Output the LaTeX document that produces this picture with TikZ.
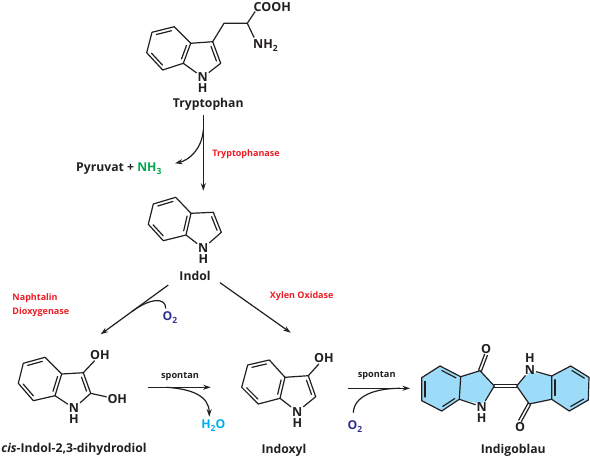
\documentclass[tikz,border=0pt]{standalone}
\usepackage{fontspec}
\setmainfont{Open Sans}
\usetikzlibrary{arrows.meta,calc}
\definecolor{cred}{HTML}{ED1C24}
\definecolor{cgreen}{HTML}{00A651}
\definecolor{cblue}{HTML}{2E3192}
\definecolor{ccyan}{HTML}{00AEEF}
\definecolor{cfill}{HTML}{9CDCF8}
\definecolor{cink}{HTML}{231F20}
\newcommand{\lowtxt}[1]{\raisebox{-3pt}{\fontsize{8.5}{8.5}\selectfont #1}}
\newcommand{\innerbond}[2]{\draw[bond] ($(#1)!.16!(#2)!3.2pt!-90:(#2)$) -- ($(#2)!.16!(#1)!3.2pt!90:(#1)$);}
\tikzset{
  bond/.style={line width=1.2pt,draw=cink,line cap=round,line join=round},
  flow/.style={line width=1.2pt,draw=cink,-{Stealth[length=7.5pt,width=5pt]}},
  sidepath/.style={line width=1.2pt,draw=cink},
  atom/.style={font=\bfseries\fontsize{12.5}{13}\selectfont,text=cink,inner sep=1pt},
  title/.style={font=\bfseries\fontsize{12.2}{13}\selectfont,text=cink,inner sep=0pt},
  enzyme/.style={font=\bfseries\fontsize{9}{10}\selectfont,text=cred,inner sep=0pt},
  cond/.style={font=\bfseries\fontsize{9.2}{10}\selectfont,text=cink,inner sep=0pt},
}
\begin{document}
\begin{tikzpicture}[x=1pt,y=-1pt]
\useasboundingbox (0,0) rectangle (590,458);

% ---- Tryptophan
\foreach \n/\p in {a/{152,32.3},b/{174.3,26.7},c/{190.7,43.3},d/{183.3,63.3},e/{162.7,70},f/{146.7,52.7},g/{212.7,41.7},h/{220.7,63.3},i/{224,23.3},j/{247.3,23.3}}
  {\coordinate (t\n) at (\p);}
\node[atom] (tN) at (202.7,77.3) {N};
\node[atom] (tH) at (202.7,88.5) {H};
\node[atom,anchor=west,inner sep=0pt] (tC) at (253.5,7) {COOH};
\node[atom,anchor=west,inner sep=0pt] (tA) at (253,45.5) {NH\lowtxt{2}};
\node[title] (trp) at (208.3,104) {Tryptophan};
\draw[bond] (ta)--(tb)--(tc)--(td)--(te)--(tf)--cycle;
\draw[bond] (tc)--(tg)--(th)--(tN)--(td);
\draw[bond] (tg)--(ti)--(tj);
\coordinate (tk) at (255,11.7);
\coordinate (tl) at (254,37.3);
\draw[bond] (tj)--(tk);
\draw[bond] (tj)--(tl);
\innerbond{ta}{tb}\innerbond{te}{tf}\innerbond{tc}{td}\innerbond{tg}{th}

% ---- Indol
\foreach \n/\p in {a/{153.3,204},b/{175.7,197.3},c/{191,213.3},d/{186,235},e/{163.3,240.7},f/{148.3,224.3},g/{213.3,212.3},h/{221.3,232.3}}
  {\coordinate (n\n) at (\p);}
\node[atom] (nN) at (203.3,248.3) {N};
\node[atom] (nH) at (203.3,259.5) {H};
\node[title] (ind) at (195,275.7) {Indol};
\draw[bond] (na)--(nb)--(nc)--(nd)--(ne)--(nf)--cycle;
\draw[bond] (nc)--(ng)--(nh)--(nN)--(nd);
\innerbond{na}{nb}\innerbond{ne}{nf}\innerbond{nc}{nd}\innerbond{ng}{nh}

% ---- cis-Indol-2,3-dihydrodiol
\foreach \n/\p in {a/{23.3,363.3},b/{45,357.3},c/{61.7,374},d/{55,395.7},e/{33.3,400.7},f/{18.3,383.3},g/{83.3,372.7},h/{90.7,393.3}}
  {\coordinate (c\n) at (\p);}
\node[atom] (cN) at (74,408.3) {N};
\node[atom] (cH) at (74,419.3) {H};
\node[atom] (cO) at (100,355) {OH};
\node[atom] (cP) at (117.3,399.3) {OH};
\node[title] (cis) at (74,449) {\itshape cis\upshape-Indol-2,3-dihydrodiol};
\draw[bond] (ca)--(cb)--(cc)--(cd)--(ce)--(cf)--cycle;
\draw[bond] (cc)--(cg)--(ch)--(cN)--(cd);
\draw[bond] (cg)--(cO);
\draw[bond] (ch)--(cP);
\innerbond{ca}{cb}\innerbond{ce}{cf}\innerbond{cc}{cd}\innerbond{cg}{ch}

% ---- Indoxyl
\foreach \n/\p in {a/{247.7,365},b/{269.3,360},c/{285,377.3},d/{280,398.3},e/{258.3,404},f/{241.7,387.3},g/{308.3,375.7},h/{315.7,396.7}}
  {\coordinate (x\n) at (\p);}
\node[atom] (xN) at (297.3,411.7) {N};
\node[atom] (xH) at (297.3,422.7) {H};
\node[atom] (xO) at (324,358.3) {OH};
\node[title] (idx) at (284,450) {Indoxyl};
\draw[bond] (xa)--(xb)--(xc)--(xd)--(xe)--(xf)--cycle;
\draw[bond] (xc)--(xg)--(xh)--(xN)--(xd);
\draw[bond] (xg)--(xO);
\innerbond{xa}{xb}\innerbond{xe}{xf}\innerbond{xc}{xd}\innerbond{xg}{xh}

% ---- Indigoblau
\foreach \n/\p in {a/{421.7,377.7},b/{440,366},c/{460.7,376.7},d/{459.3,399.3},e/{441.7,411},f/{421.7,400.7},g/{480,370.7},h/{494.3,386},k/{481.7,404}}
  {\coordinate (l\n) at (\p);}
\foreach \n/\p in {a/{551.7,376},b/{570.7,366},c/{589,377.3},d/{588.3,400},e/{569.3,411},f/{551.7,399.3},g/{529.3,404},h/{516.7,386},k/{530,372}}
  {\coordinate (r\n) at (\p);}
\fill[cfill] (la)--(lb)--(lc)--(lg)--(lh)--(lk)--(ld)--(le)--(lf)--cycle;
\fill[cfill] (ra)--(rb)--(rc)--(rd)--(re)--(rf)--(rg)--(rh)--(rk)--cycle;
\node[atom] (lN) at (481.7,406.7) {N};
\node[atom] (lH) at (481.7,417.7) {H};
\node[atom] (lO) at (486,349) {O};
\node[atom] (rN) at (530,370) {N};
\node[atom] (rH) at (530,358.3) {H};
\node[atom] (rO) at (520,426.7) {O};
\node[title] (idg) at (513.3,450) {Indigoblau};
\draw[bond] (la)--(lb)--(lc)--(ld)--(le)--(lf)--cycle;
\draw[bond] (lc)--(lg)--(lh)--(lN)--(ld);
\draw[bond] (ra)--(rb)--(rc)--(rd)--(re)--(rf)--cycle;
\draw[bond] (ra)--(rN)--(rh)--(rg)--(rf);
\innerbond{lb}{lc}\innerbond{ld}{le}\innerbond{lf}{la}
\innerbond{rb}{rc}\innerbond{rd}{re}\innerbond{rf}{ra}
\draw[bond] ($(lh)!1.6pt!90:(rh)$) -- ($(rh)!1.6pt!-90:(lh)$);
\draw[bond] ($(lh)!1.6pt!-90:(rh)$) -- ($(rh)!1.6pt!90:(lh)$);
\draw[bond] ($(lg)!1.5pt!90:(lO.south)$) -- ($(lO.south)!1.5pt!-90:(lg)$);
\draw[bond] ($(lg)!1.5pt!-90:(lO.south)$) -- ($(lO.south)!1.5pt!90:(lg)$);
\draw[bond] ($(rg)!1.5pt!90:(rO.north)$) -- ($(rO.north)!1.5pt!-90:(rg)$);
\draw[bond] ($(rg)!1.5pt!-90:(rO.north)$) -- ($(rO.north)!1.5pt!90:(rg)$);

% ---- labels
\node[enzyme] (e1) at (246,153.7) {Tryptophanase};
\node[enzyme,anchor=west] (e2) at (12.3,297.7) {Naphtalin};
\node[enzyme,anchor=west] (e3) at (12.3,312) {Dioxygenase};
\node[enzyme] (e4) at (301.7,296) {Xylen Oxidase};
\node[cond] (s1) at (180,376.7) {spontan};
\node[cond] (s2) at (376.7,376) {spontan};
\node[title,anchor=west] (pyr) at (76,169) {Pyruvat + \textcolor{cgreen}{NH\lowtxt{3}}};
\node[title,text=cblue] (o1) at (170,318) {O\lowtxt{2}};
\node[title,text=ccyan] (w) at (213.3,426) {H\lowtxt{2}O};
\node[title,text=cblue] (o2) at (355,427) {O\lowtxt{2}};

% ---- arrows
\coordinate (a1s) at (203.3,115); \coordinate (a1e) at (203.3,190.7);
\coordinate (a2s) at (203.3,130); \coordinate (a2e) at (175,163.3);
\draw[flow] (a1s)--(a1e);
\draw[flow] (a2s) .. controls (202,148) and (190,160) .. (a2e);
\coordinate (a3s) at (168.3,285); \coordinate (a3e) at (100.7,334.3);
\draw[flow] (a3s)--(a3e);
\coordinate (o1s) at (165.7,308.5); \coordinate (o1e) at (131.7,311.7);
\draw[sidepath] (o1s) .. controls (166,297) and (150,298) .. (o1e);
\coordinate (a4s) at (220,282.7); \coordinate (a4e) at (290.7,332.7);
\draw[flow] (a4s)--(a4e);
\coordinate (a5s) at (147.7,387.3); \coordinate (a5e) at (210.7,387.3);
\draw[flow] (a5s)--(a5e);
\coordinate (a6s) at (166.7,387.3); \coordinate (a6e) at (209.3,416.7);
\draw[flow] (a6s) .. controls (192,389) and (209,396) .. (a6e);
\coordinate (a7s) at (348.3,388.3); \coordinate (a7e) at (410,388.3);
\draw[flow] (a7s)--(a7e);
\coordinate (o2s) at (353.3,412.7); \coordinate (o2e) at (400,388.3);
\draw[sidepath] (o2s) .. controls (354,396) and (375,388.3) .. (o2e);
\end{tikzpicture}
\end{document}
